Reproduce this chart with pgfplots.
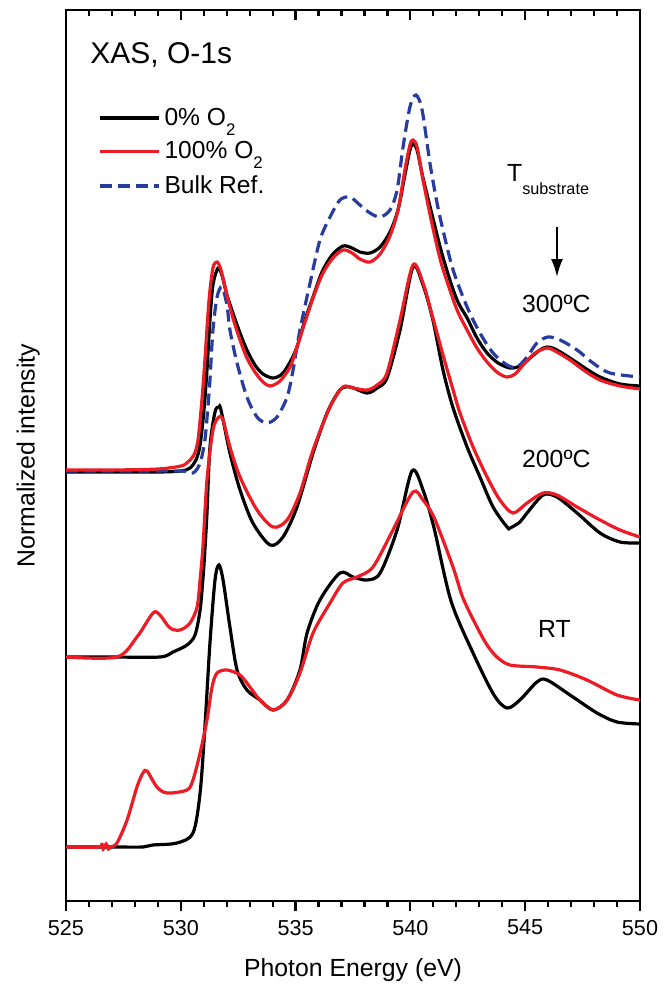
\documentclass[border=0pt]{standalone}
\usepackage{pgfplots}
\pgfplotsset{compat=1.18}
\usepackage{fontspec}
\setmainfont{Liberation Sans}
\usetikzlibrary{arrows.meta}
\definecolor{cred}{RGB}{237,28,36}
\definecolor{cblue}{RGB}{40,60,160}
\newcommand{\sub}[2]{{\fontsize{#1}{#1}\selectfont\raisebox{#2}{2}}}
\begin{document}
\begin{tikzpicture}
\begin{axis}[
  scale only axis, width=287pt, height=445.5pt,
  xmin=525, xmax=550, ymin=10, ymax=901, y dir=reverse,
  xtick={525,530,535,540,545,550}, minor x tick num=4,
  xtick pos=left, tick align=outside, ytick=\empty,
  major tick length=5pt, minor tick length=3pt,
  tick style={black, line width=1.1pt},
  axis line style={line width=1.2pt},
  /pgf/number format/assume math mode=true,
  /pgf/number format/1000 sep={},
  ticklabel style={font=\fontsize{10.8}{12}\selectfont},
  xticklabel style={yshift=-1pt},
  xlabel={Photon Energy (eV)},
  ylabel={Normalized intensity},
  label style={font=\fontsize{12.4}{14}\selectfont},
  xlabel style={at={(axis description cs:0.5,-0.078)}, anchor=center},
  ylabel style={at={(axis description cs:-0.066,0.5)}, anchor=center},
  legend style={at={(axis description cs:0.0557,0.895)}, anchor=north west, draw=none, fill=none,
    font=\fontsize{12.3}{14}\selectfont, row sep=2.8pt, inner sep=0pt,
    /tikz/every even column/.append style={column sep=3pt}},
  legend cell align=left,
  legend image code/.code={\draw[#1] (0pt,0pt) -- (29.5pt,0pt);},
  every axis plot/.append style={smooth, tension=0.5},
]
% ---- 300 C ----
\addplot[black, line width=1.6pt, forget plot] table {
525 472
527 472
529 472
530.01 471
530.40 468
530.66 460
530.84 445
531.01 410
531.14 370
531.27 320
531.40 285
531.62 268
531.79 275
532.01 295
532.27 313
532.58 333
532.88 350
533.23 365
533.58 374
534.02 378
534.41 374
534.76 362
535.06 347
535.41 320
535.76 297
536.15 272
536.59 255
537.06 246
537.46 248
537.80 252
538.24 253
538.68 247
539.11 232
539.46 210
539.76 175
539.98 150
540.11 144
540.29 150
540.55 178
540.98 218
541.33 250
541.72 280
542.07 302
542.47 318
542.90 338
543.34 353
543.82 363
544.34 368
544.77 366
545.21 358
545.64 350
545.95 347
546.30 349
546.95 358
547.60 368
548.26 377
549.13 384
550 386
};
\addplot[cblue, line width=1.6pt, dash pattern=on 6pt off 3pt, forget plot] table {
525 471
528 471
530.01 471
530.53 473
530.84 463
531.05 440
531.18 407
531.27 380
531.40 330
531.58 297
531.79 287
532.01 305
532.14 330
532.45 363
532.88 397
533.32 417
533.75 423
534.19 417
534.63 397
534.89 370
535.19 330
535.63 283
536.06 240
536.50 217
536.93 200
537.37 197
537.80 205
538.24 213
538.68 217
539.11 210
539.42 190
539.68 147
539.98 107
540.24 95
540.51 110
540.85 163
541.16 203
541.42 230
541.86 270
542.47 307
543.03 333
543.60 353
544.21 365
544.64 367
545.08 357
545.51 343
545.99 337
546.52 340
547.26 350
547.95 363
548.69 373
550 377
};
\addplot[cred, line width=1.6pt, forget plot] table {
525 470
527 470
529 469
530.01 466
530.31 462
530.57 455
530.75 440
530.92 400
531.05 360
531.23 300
531.40 268
531.58 262
531.75 270
532.01 295
532.27 318
532.58 340
532.88 358
533.23 372
533.58 382
533.89 386
534.32 381
534.76 367
535.06 347
535.41 322
535.76 298
536.15 275
536.59 259
537.06 250
537.46 253
537.80 259
538.24 262
538.68 254
539.11 236
539.46 210
539.76 170
539.98 145
540.11 140
540.29 147
540.55 180
540.98 228
541.33 262
541.72 290
542.07 312
542.47 330
542.90 348
543.34 362
543.82 373
544.21 377
544.56 374
544.99 363
545.43 353
545.95 348
546.30 351
546.95 360
547.60 371
548.26 380
549.13 386
550 389
};
% ---- 200 C ----
\addplot[black, line width=1.6pt, forget plot] table {
525 657
527 657
529.09 657
529.66 652
530.27 645
530.62 635
530.84 610
530.97 577
531.05 550
531.14 513
531.27 447
531.49 412
531.66 407
531.75 410
532.14 453
532.58 490
533.14 523
533.89 545
534.45 537
535.06 507
535.76 453
536.37 413
536.93 390
537.37 387
538.11 393
538.55 388
538.98 378
539.55 330
540.11 267
540.55 285
540.98 320
541.42 370
541.86 408
542.47 447
543.03 477
543.60 507
544.21 527
544.34 528
544.77 522
545.08 513
545.78 495
546.38 497
547.26 513
548.26 533
549.13 542
550 543
};
\addplot[cred, line width=1.6pt, forget plot] table {
525 657
527.22 657
528.09 637
528.79 613
529.09 615
529.53 628
529.97 630
530.40 623
530.71 607
530.84 580
530.97 545
531.14 480
531.40 430
531.66 417
531.84 420
532.14 447
532.58 477
533.32 510
534.02 527
534.63 520
535.19 493
535.76 450
536.50 407
537.06 387
537.50 388
538.11 390
538.55 385
538.98 373
539.55 320
540.11 265
540.55 283
540.98 318
541.42 355
541.86 390
542.16 413
542.73 447
543.34 477
543.90 500
544.47 513
545.08 503
545.78 493
546.38 495
547.26 507
548.26 520
549.13 530
550 537
};
% ---- RT ----
\addplot[black, line width=1.6pt, forget plot] table {
525 847
527 847
528.35 847
528.79 845
529.83 843
530.53 833
530.84 793
531.05 727
531.27 643
531.49 580
531.66 565
531.84 580
532.14 627
532.45 670
532.88 690
533.45 700
534.02 710
534.63 700
535.19 670
535.50 633
536.06 600
536.93 573
537.50 577
538.11 580
538.68 573
539.42 530
540.07 471
540.55 490
541.03 528
541.77 601
542.77 655
543.64 695
544.21 708
544.77 700
545.51 682
545.95 680
547.08 697
548.13 713
549.00 722
550 724
};
\addplot[cred, line width=1.6pt, forget plot] table {
525 847
526.45 847
526.55 843
526.62 849
526.75 844
526.85 849
526.95 847
527.22 843
527.66 820
528.09 787
528.35 773
528.53 771
528.96 787
529.40 793
530.27 790
530.53 780
530.84 753
531.14 720
531.36 687
531.58 673
532.01 670
532.58 675
533.01 687
533.45 700
534.02 710
534.63 700
535.19 673
535.76 633
536.50 603
537.06 583
537.67 577
538.37 567
539.24 530
540.11 492
540.55 500
540.98 515
541.42 540
541.90 570
542.29 598
542.90 627
543.34 645
543.77 657
544.34 665
545.51 667
546.52 670
547.69 680
549.00 695
550 700
};
\addlegendimage{black, line width=1.6pt}
\addlegendentry{0\% O\sub{8.4}{-5pt}}
\addlegendimage{cred, line width=1.6pt}
\addlegendentry{100\% O\sub{8.4}{-5pt}}
\addlegendimage{cblue, line width=1.6pt, dash pattern=on 6pt off 3pt}
\addlegendentry{Bulk Ref.}
\node[anchor=west, font=\fontsize{15}{17}\selectfont, inner sep=0pt] at (axis description cs:0.0418,0.9495) {XAS, O-1s};
\node[anchor=base west, font=\fontsize{12.4}{14}\selectfont, inner sep=0pt] at (axis description cs:0.768,0.807) {T{\fontsize{8.1}{9}\selectfont\raisebox{-6.5pt}{substrate}}};
\draw[line width=1.1pt, -{Latex[length=9pt,width=6pt]}] (axis description cs:0.8554,0.7565) -- (axis description cs:0.8554,0.7003);
\node[anchor=base west, font=\fontsize{12.4}{14}\selectfont, inner sep=0pt] at (axis description cs:0.794,0.660) {300ºC};
\node[anchor=base west, font=\fontsize{12.4}{14}\selectfont, inner sep=0pt] at (axis description cs:0.794,0.486) {200ºC};
\node[anchor=base west, font=\fontsize{12.4}{14}\selectfont, inner sep=0pt] at (axis description cs:0.822,0.2963) {RT};
\end{axis}
\begin{axis}[
  scale only axis, width=287pt, height=445.5pt,
  xmin=525, xmax=550, ymin=10, ymax=901,
  hide y axis,
  xtick={525,530,535,540,545,550}, minor x tick num=4,
  xtick pos=right, tick align=inside, xticklabels={},
  major tick length=5pt, minor tick length=3pt,
  tick style={black, line width=1.1pt},
  axis line style={line width=1.2pt},
]
\end{axis}
\pgfresetboundingbox
\path (current axis.south west) +(-33pt,-42.5pt) (current axis.north east) +(14pt,5pt);
\end{tikzpicture}
\end{document}
